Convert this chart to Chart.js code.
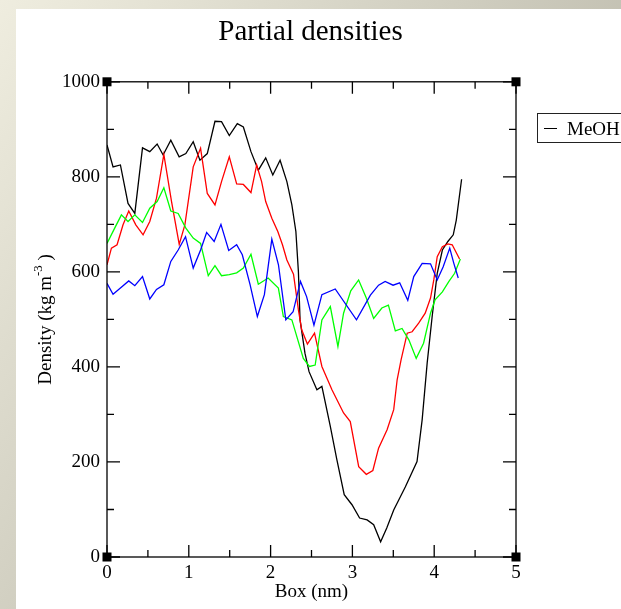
<!DOCTYPE html>
<html><head><meta charset="utf-8">
<script src="https://cdn.jsdelivr.net/npm/chart.js@4"></script>
<style>
html,body{margin:0;padding:0;}
body{width:621px;height:609px;overflow:hidden;position:relative;background:linear-gradient(125deg,#efeddf 0%,#cfcdbf 45%,#a9a697 100%);}
#sheet{position:absolute;left:16px;top:9px;right:0;bottom:0;background:#fff;}
#wrap{position:absolute;left:0;top:0;width:621px;height:609px;}
</style></head><body>
<div id="sheet"></div>
<div id="wrap"><canvas id="c" width="621" height="609"></canvas></div>
<script>
// ---- data ----
const titleText = 'Partial densities';
const xTitle = 'Box (nm)';
const yTitleMain = 'Density (kg m';
const yTitleSup = '-3';
const yTitleEnd = ' )';
const legendLabel = 'MeOH';

const xTicks = [0, 1, 2, 3, 4, 5];
const xTickLabels = ['0', '1', '2', '3', '4', '5'];
const xMinor = [0.5, 1.5, 2.5, 3.5, 4.5];
const yTicks = [0, 200, 400, 600, 800, 1000];
const yTickLabels = ['0', '200', '400', '600', '800', '1000'];
const yMinor = [100, 300, 500, 700, 900];

const blackX = [0,0.074,0.164,0.257,0.34,0.434,0.523,0.613,0.686,0.78,0.882,0.964,1.054,1.136,1.226,1.32,1.40,1.495,1.593,1.667,1.76,1.85,1.94,2.027,2.116,2.199,2.26,2.309,2.34,2.36,2.42,2.47,2.566,2.627,2.73,2.81,2.90,2.995,3.088,3.18,3.26,3.345,3.42,3.505,3.648,3.79,3.853,3.914,3.975,4.037,4.10,4.167,4.233,4.27,4.335];
const blackY = [867,821,825,744,723,861,853,869,846,877,842,849,874,835,849,917,916,887,912,905,853,814,840,804,835,790,741,685,600,499,429,390,352,359,275,205,131,110,82,78,68,32,61,99,148,201,289,408,506,597,646,664,678,709,795];

const redX = [0,0.054,0.123,0.196,0.266,0.352,0.441,0.523,0.605,0.695,0.789,0.883,0.952,1.054,1.144,1.226,1.32,1.40,1.495,1.585,1.667,1.76,1.83,1.89,1.94,2.015,2.088,2.145,2.199,2.28,2.34,2.38,2.45,2.537,2.627,2.75,2.892,2.974,3.077,3.17,3.25,3.32,3.424,3.505,3.547,3.595,3.67,3.73,3.81,3.89,3.955,3.995,4.037,4.10,4.167,4.22,4.31];
const redY = [615,650,657,699,728,699,678,706,755,847,748,658,699,821,860,765,741,790,842,785,784,767,825,790,748,713,685,657,625,595,520,478,448,471,401,352,303,285,190,174,182,229,268,310,373,415,471,474,492,513,545,583,632,653,659,657,627];

const greenX = [0,0.094,0.176,0.257,0.34,0.434,0.523,0.613,0.695,0.78,0.87,0.964,1.054,1.144,1.238,1.32,1.40,1.495,1.585,1.667,1.76,1.85,1.97,2.095,2.156,2.26,2.40,2.475,2.545,2.627,2.73,2.823,2.892,2.98,3.076,3.17,3.26,3.36,3.44,3.525,3.607,3.69,3.78,3.87,3.955,4.01,4.10,4.18,4.25,4.32];
const greenY = [660,692,720,706,720,704,734,748,777,728,723,692,671,660,592,613,592,594,598,608,637,574,587,566,506,499,418,401,404,499,527,443,513,560,583,545,502,524,530,476,481,457,418,450,513,541,558,580,597,627];

const blueX = [0,0.074,0.164,0.266,0.34,0.434,0.523,0.605,0.695,0.78,0.87,0.96,1.054,1.144,1.218,1.31,1.393,1.488,1.585,1.654,1.749,1.838,1.924,2.015,2.096,2.186,2.275,2.365,2.44,2.53,2.627,2.79,3.05,3.22,3.32,3.40,3.497,3.578,3.677,3.75,3.853,3.955,4.037,4.11,4.19,4.24,4.294];
const blueY = [576,553,566,581,571,590,543,563,573,622,646,674,608,646,683,664,700,645,657,636,573,506,552,669,615,499,516,580,548,488,552,564,499,551,572,580,572,577,540,590,618,617,583,611,650,618,587];

// ---- build ----
const pts = (xs, ys) => xs.map((x, i) => ({x: x, y: ys[i]}));
const SERIF = "'Liberation Serif', 'Times New Roman', serif";

const framePlugin = {
  id: 'xmFrame',
  afterDatasetsDraw(chart) {
    const {ctx, chartArea: a, scales: {x, y}} = chart;
    ctx.save();
    ctx.strokeStyle = '#000';
    ctx.lineWidth = 1.3;
    ctx.strokeRect(a.left, a.top, a.right - a.left, a.bottom - a.top);
    const tickX = (v, len) => {
      const px = x.getPixelForValue(v);
      ctx.beginPath();
      ctx.moveTo(px, a.bottom); ctx.lineTo(px, a.bottom - len);
      ctx.moveTo(px, a.top); ctx.lineTo(px, a.top + len);
      ctx.stroke();
    };
    const tickY = (v, len) => {
      const py = y.getPixelForValue(v);
      ctx.beginPath();
      ctx.moveTo(a.left, py); ctx.lineTo(a.left + len, py);
      ctx.moveTo(a.right, py); ctx.lineTo(a.right - len, py);
      ctx.stroke();
    };
    xTicks.forEach(v => tickX(v, 12));
    xMinor.forEach(v => tickX(v, 7));
    yTicks.forEach(v => tickY(v, 13));
    yMinor.forEach(v => tickY(v, 7));
    // corner markers
    ctx.fillStyle = '#000';
    [[a.left, a.top], [a.right, a.top], [a.left, a.bottom], [a.right, a.bottom]].forEach(([cx, cy]) => {
      ctx.fillRect(cx - 4.5, cy - 4.5, 9, 9);
    });
    // y title with superscript
    ctx.fillStyle = '#000';
    ctx.textBaseline = 'alphabetic';
    ctx.textAlign = 'left';
    const fMain = '19px ' + SERIF, fSup = '13px ' + SERIF;
    ctx.font = fMain; const w1 = ctx.measureText(yTitleMain).width; const w3 = ctx.measureText(yTitleEnd).width;
    ctx.font = fSup; const w2 = ctx.measureText(yTitleSup).width;
    const tot = w1 + w2 + w3;
    ctx.translate(51, (a.top + a.bottom) / 2);
    ctx.rotate(-Math.PI / 2);
    let sx = -tot / 2;
    ctx.font = fMain; ctx.fillText(yTitleMain, sx, 0); sx += w1;
    ctx.font = fSup; ctx.fillText(yTitleSup, sx, -9); sx += w2;
    ctx.font = fMain; ctx.fillText(yTitleEnd, sx, 0);
    ctx.restore();
    // legend box
    ctx.save();
    ctx.strokeStyle = '#222';
    ctx.lineWidth = 1;
    ctx.strokeRect(537.5, 113.5, 130, 29);
    ctx.strokeStyle = chart.data.datasets[0].borderColor;
    ctx.beginPath(); ctx.moveTo(544, 128.5); ctx.lineTo(557, 128.5); ctx.stroke();
    ctx.fillStyle = '#000';
    ctx.font = '19px ' + SERIF;
    ctx.textBaseline = 'alphabetic';
    ctx.fillText(chart.data.datasets[0].label, 567, 135);
    ctx.restore();
  }
};

const tickFont = {family: SERIF, size: 19, weight: 'normal'};

new Chart(document.getElementById('c'), {
  type: 'line',
  data: {
    datasets: [
      {label: legendLabel, data: pts(blackX, blackY), borderColor: '#000000', order: 4},
      {label: '', data: pts(redX, redY), borderColor: '#ff0000', order: 3},
      {label: '', data: pts(greenX, greenY), borderColor: '#00ff00', order: 2},
      {label: '', data: pts(blueX, blueY), borderColor: '#0000ff', order: 1}
    ]
  },
  options: {
    responsive: false,
    devicePixelRatio: 1,
    animation: false,
    elements: {
      line: {borderWidth: 1.3, tension: 0, fill: false},
      point: {radius: 0, hoverRadius: 0}
    },
    layout: {padding: {left: 0, right: 0, top: 0, bottom: 0}},
    plugins: {
      legend: {display: false},
      tooltip: {enabled: false},
      title: {
        display: true, text: titleText, color: '#000',
        font: {family: SERIF, size: 29, weight: 'normal', lineHeight: 1.2},
        padding: {top: 15, bottom: 32}
      }
    },
    scales: {
      x: {
        type: 'linear', min: 0, max: 5,
        afterBuildTicks: s => { s.ticks = xTicks.map(v => ({value: v})); },
        afterFit: s => { s.height = 52; },
        grid: {display: false, drawTicks: false},
        border: {display: false},
        ticks: {color: '#000', font: tickFont, padding: 5, maxRotation: 0, autoSkip: false,
                callback: (v) => xTickLabels[xTicks.indexOf(v)]},
        title: {display: true, text: xTitle, color: '#000', font: {family: SERIF, size: 19, weight: 'normal'}, padding: {top: 0, bottom: 6}}
      },
      y: {
        type: 'linear', min: 0, max: 1000,
        afterBuildTicks: s => { s.ticks = yTicks.map(v => ({value: v})); },
        afterFit: s => { s.width = 107; },
        grid: {display: false, drawTicks: false},
        border: {display: false},
        ticks: {color: '#000', font: tickFont, padding: 7, autoSkip: false,
                callback: (v) => yTickLabels[yTicks.indexOf(v)]}
      },
      yRight: {
        type: 'linear', position: 'right', min: 0, max: 1000,
        afterFit: s => { s.width = 105; },
        grid: {display: false, drawTicks: false},
        border: {display: false},
        ticks: {display: false}
      }
    }
  },
  plugins: [framePlugin]
});
</script>
</body></html>
